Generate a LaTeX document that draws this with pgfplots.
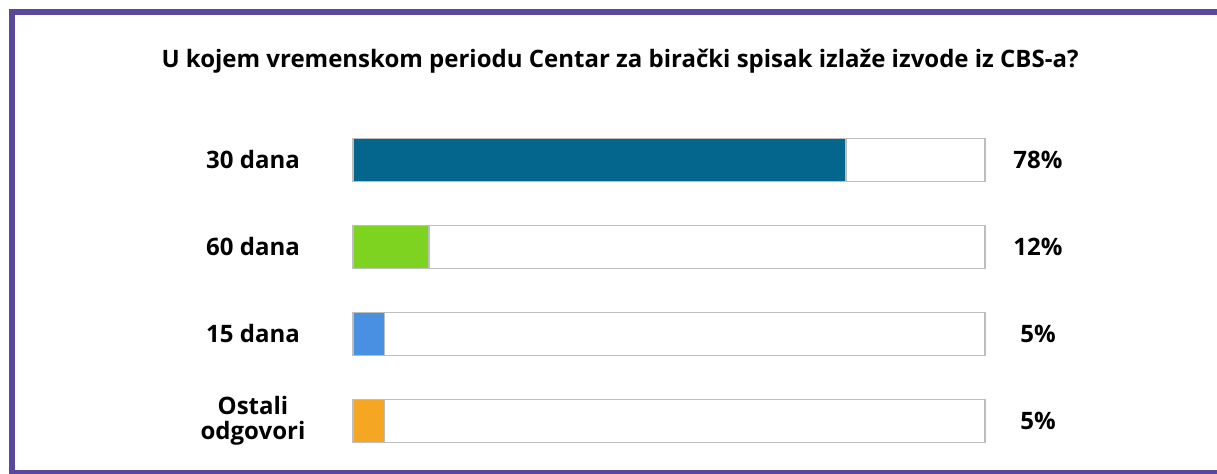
\documentclass[border=0pt]{standalone}
\usepackage{pgfplots}
\pgfplotsset{compat=1.18}
\usepackage{fontspec}
\setmainfont{Open Sans}
\definecolor{framec}{RGB}{91,71,155}
\definecolor{c1}{RGB}{4,102,140}
\definecolor{c2}{RGB}{126,211,33}
\definecolor{c3}{RGB}{74,144,226}
\definecolor{c4}{RGB}{245,166,35}
\definecolor{trk}{RGB}{190,190,190}
\begin{document}
\begin{tikzpicture}[x=0.5pt,y=0.5pt]
\useasboundingbox (0,0) rectangle (1217,474);
\fill[white] (0,0) rectangle (1217,474);
\draw[framec, line width=3pt] (1217,462) -- (12,462) -- (12,0);
\draw[framec, line width=1.75pt] (12,1.75) -- (1217,1.75);
\node[font=\bfseries\fontsize{12}{14}\selectfont] at (620,413) {U kojem vremenskom periodu Centar za birački spisak izlaže izvode iz CBS-a?};
\begin{axis}[
  at={(176.5pt,4.75pt)}, anchor=south west,
  scale only axis, width=316pt, height=174pt,
  xmin=0, xmax=100, ymin=-0.5, ymax=3.5, y dir=reverse,
  axis lines=none, ticks=none, clip=false,
  xbar, bar width=21.5pt, bar shift=0pt,
]
\addplot[fill=white, draw=trk, line width=0.8pt] coordinates {(100,0) (100,1) (100,2) (100,3)};
\addplot[fill=c1, draw=trk, line width=0.8pt] coordinates {(78,0)};
\addplot[fill=c2, draw=trk, line width=0.8pt] coordinates {(12,1)};
\addplot[fill=c3, draw=trk, line width=0.8pt] coordinates {(5,2)};
\addplot[fill=c4, draw=trk, line width=0.8pt] coordinates {(5,3)};
\begin{scope}[every node/.style={font=\bfseries\fontsize{12}{12.5}\selectfont, align=center}]
\node[xshift=-50pt] at (axis cs:0,0) {30 dana};
\node[xshift=-50pt] at (axis cs:0,1) {60 dana};
\node[xshift=-50pt] at (axis cs:0,2) {15 dana};
\node[xshift=-50pt] at (axis cs:0,3) {Ostali\\odgovori};
\node[xshift=26.5pt] at (axis cs:100,0) {78\%};
\node[xshift=26.5pt] at (axis cs:100,1) {12\%};
\node[xshift=26.5pt] at (axis cs:100,2) {5\%};
\node[xshift=26.5pt] at (axis cs:100,3) {5\%};
\end{scope}
\end{axis}
\end{tikzpicture}
\end{document}
